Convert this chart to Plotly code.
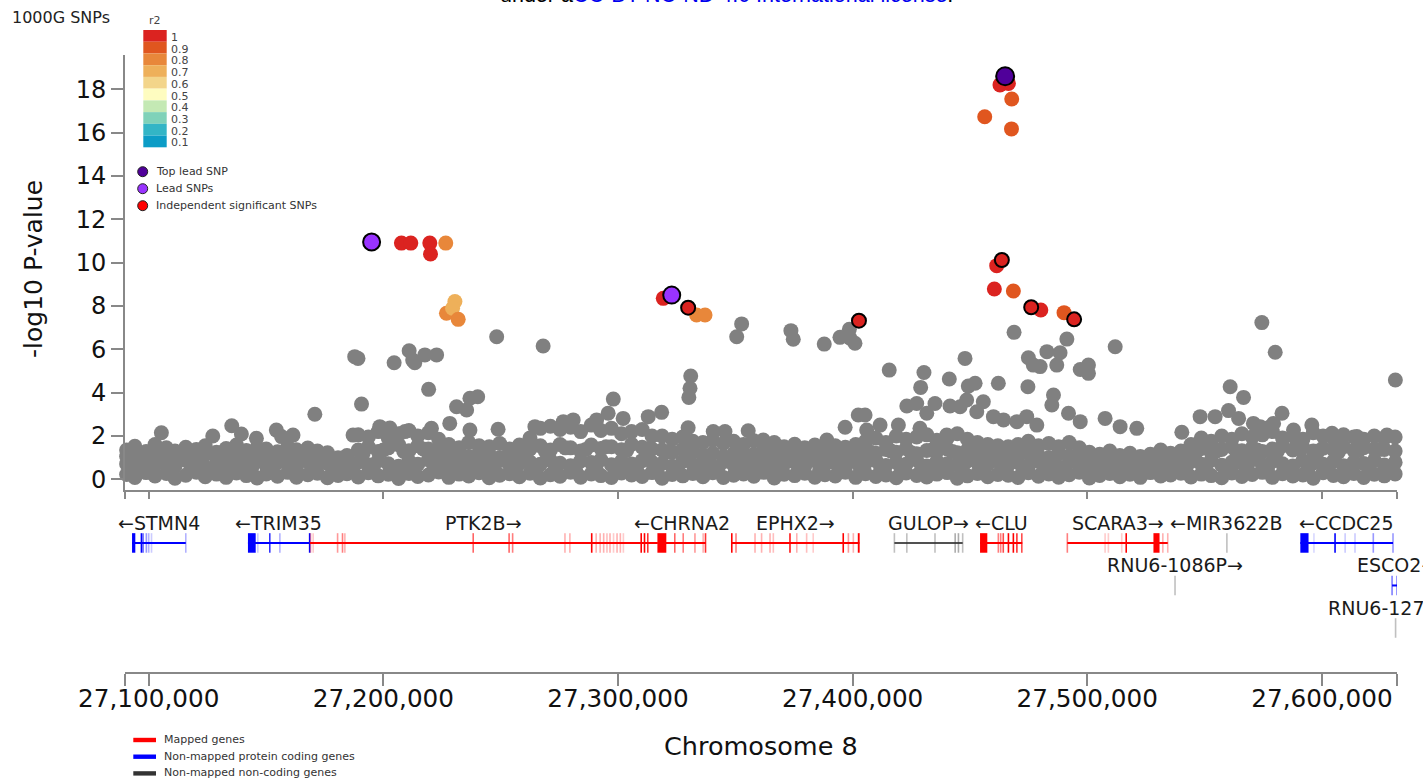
import math
import plotly.graph_objects as go

# ------------------------------------------------------------------ data
# positions in kb on chromosome 8, values are -log10 P
band_kb = [27090.6, 27094.1, 27098.9, 27102.7, 27107.5, 27111.2, 27115.8, 27120.3, 27124.1, 27128.9,
           27133.0, 27137.4, 27141.6, 27146.2, 27150.1, 27154.9, 27159.3, 27163.0, 27167.8, 27171.9,
           27176.2, 27180.7, 27184.5, 27189.3, 27193.6, 27197.8, 27202.1, 27206.5, 27210.9, 27214.7,
           27219.2, 27223.6, 27227.9, 27232.3, 27236.4, 27240.8, 27245.1, 27249.6, 27253.8, 27258.0,
           27262.5, 27266.9, 27271.2, 27275.3, 27279.8, 27284.1, 27288.6, 27292.7, 27297.2, 27301.5,
           27305.8, 27310.3, 27314.5, 27318.8, 27323.1, 27327.6, 27331.9, 27336.2, 27340.4, 27344.9,
           27349.3, 27353.5, 27357.9, 27362.2, 27366.6, 27370.8, 27375.3, 27379.6, 27383.9, 27388.2,
           27392.6, 27396.9, 27401.3, 27405.5, 27409.9, 27414.2, 27418.6, 27422.8, 27427.3, 27431.6,
           27435.9, 27440.3, 27444.6, 27448.9, 27453.2, 27457.6, 27461.9, 27466.3, 27470.5, 27474.9,
           27479.2, 27483.6, 27487.8, 27492.3, 27496.6, 27500.9, 27505.3, 27509.6, 27513.9, 27518.2,
           27522.6, 27526.9, 27531.3, 27535.5, 27539.9, 27544.2, 27548.6, 27552.8, 27557.3, 27561.6,
           27565.9, 27570.3, 27574.6, 27578.9, 27583.2, 27587.6, 27591.9, 27596.3, 27600.5, 27604.9,
           27609.2, 27613.6, 27617.8, 27622.3, 27626.6, 27631.2]
band_lo = [0.22, 0.08, 0.31, 0.15, 0.27, 0.05, 0.19, 0.33, 0.12, 0.24, 0.09, 0.29, 0.17, 0.06, 0.25, 0.14, 0.32, 0.1, 0.21, 0.28, 0.07,
           0.18, 0.26,
           0.11, 0.3, 0.16, 0.23, 0.04, 0.27, 0.13, 0.2, 0.34,
           0.09, 0.24, 0.15, 0.3, 0.07, 0.19, 0.26, 0.12,
           0.28, 0.06, 0.21, 0.14, 0.33, 0.1, 0.25, 0.17, 0.08, 0.29, 0.2, 0.13, 0.31,
           0.05, 0.22, 0.16, 0.27,
           0.12, 0.3, 0.08, 0.19, 0.25, 0.14, 0.32, 0.06, 0.23, 0.17, 0.28, 0.1, 0.21, 0.15, 0.33, 0.09,
           0.26, 0.13, 0.2, 0.07, 0.29, 0.18, 0.11, 0.24, 0.31, 0.05, 0.16, 0.27, 0.12, 0.22,
           0.19, 0.08, 0.3, 0.14, 0.25, 0.1, 0.21, 0.33,
           0.06, 0.18, 0.27, 0.12, 0.23, 0.09, 0.31, 0.15, 0.2, 0.28,
           0.11, 0.24, 0.17, 0.07, 0.29, 0.13, 0.22, 0.32, 0.09, 0.26, 0.15, 0.2, 0.05, 0.3, 0.18, 0.12, 0.27, 0.08, 0.23, 0.16, 0.25]
band_m1 = [0.71, 0.58, 0.83, 0.64, 0.77, 0.6, 0.88, 0.69, 0.55, 0.8, 0.66, 0.74, 0.59, 0.85, 0.62, 0.78, 0.7, 0.57, 0.82, 0.65, 0.73,
           0.6, 0.52,
           0.79, 0.67, 0.86, 0.72, 0.6, 0.84, 0.7, 0.9, 0.76,
           0.63, 0.81, 0.68, 0.75, 0.58, 0.87, 0.66, 0.72,
           0.8, 0.69, 0.88, 0.74, 0.62, 0.85, 0.77, 0.9, 0.67, 0.83, 0.71, 0.86, 0.79,
           0.73, 0.6, 0.84, 0.68,
           0.7, 0.59, 0.81, 0.66, 0.76, 0.56, 0.84, 0.63, 0.72, 0.79, 0.61, 0.87, 0.68, 0.74, 0.58, 0.8,
           0.75, 0.86, 0.64, 0.79, 0.7, 0.89, 0.61, 0.83, 0.72, 0.66, 0.85, 0.77, 0.69, 0.82,
           0.66, 0.78, 0.6, 0.84, 0.71, 0.57, 0.8, 0.69,
           0.62, 0.55, 0.7, 0.58, 0.66, 0.53, 0.72, 0.6, 0.64, 0.68,
           0.82, 0.7, 0.88, 0.65, 0.79, 0.74, 0.9, 0.67, 0.84, 0.72, 0.61, 0.86, 0.76, 0.69, 0.83, 0.63, 0.8, 0.73, 0.87, 0.66, 0.78]
band_m2 = [1.05, 1.18, 0.98, 1.12, 1.02, 1.21, 1.08, 0.97, 1.15, 1.04, 1.19, 1.0, 1.1, 1.22, 1.01, 1.14, 1.06, 0.99, 1.16, 1.03, 1.11,
           0.85, 0.92,
           1.35, 1.5, 1.28, 1.45, 1.6, 1.32, 1.55, 1.4, 1.3,
           1.1, 1.2, 1.05, 1.25, 1.15, 1.0, 1.22, 1.12,
           1.4, 1.55, 1.35, 1.6, 1.45, 1.3, 1.58, 1.42, 1.5, 1.36, 1.62, 1.48, 1.4,
           1.35, 1.25, 1.4, 1.3,
           1.12, 1.2, 1.05, 1.18, 1.0, 1.15, 1.08, 1.22, 1.02, 1.14, 1.1, 1.19, 1.04, 1.16, 1.07, 1.21,
           1.3, 1.2, 1.38, 1.25, 1.42, 1.18, 1.33, 1.28, 1.4, 1.22, 1.35, 1.27, 1.2, 1.3,
           1.15, 1.05, 1.2, 1.1, 1.0, 1.18, 1.08, 1.12,
           0.95, 1.02, 0.9, 1.05, 0.97, 0.88, 1.0, 0.93, 1.04, 0.98,
           1.3, 1.42, 1.25, 1.38, 1.5, 1.32, 1.45, 1.28, 1.4, 1.55, 1.35, 1.48, 1.3, 1.44, 1.36, 1.5, 1.33, 1.46, 1.4, 1.38, 1.3]
band_top = [1.35, 1.52, 1.28, 1.6, 1.45, 1.3, 1.48, 1.38, 1.55, 1.25, 1.42, 1.58, 1.33, 1.47, 1.4, 1.27, 1.5, 1.36, 1.44, 1.3, 1.22,
            1.0, 1.1,
            2.05, 1.95, 2.2, 1.9, 2.1, 2.25, 2.0, 2.15, 1.85,
            1.6, 1.45, 1.7, 1.55, 1.5, 1.65, 1.4, 1.58,
            1.9, 2.35, 2.45, 2.3, 2.4, 2.2, 2.5, 2.25, 2.35, 2.1, 2.2, 2.3, 2.0,
            2.0, 1.85, 1.95, 1.75,
            1.7, 1.8, 1.65, 1.75, 1.6, 1.78, 1.55, 1.7, 1.5, 1.62, 1.45, 1.58, 1.5, 1.55, 1.48, 1.6,
            1.75, 1.9, 1.7, 2.0, 1.85, 1.95, 2.05, 1.8, 1.9, 2.1, 1.85, 1.7, 1.6, 1.55,
            1.5, 1.6, 1.75, 1.55, 1.65, 1.5, 1.7, 1.45,
            1.25, 1.15, 1.3, 1.1, 1.2, 1.05, 1.15, 1.35, 1.2, 1.3,
            1.6, 1.9, 1.75, 2.0, 1.85, 2.1, 1.95, 2.05, 2.2, 1.9, 2.0, 1.85, 2.15, 2.0, 1.9, 2.05, 1.95, 1.85, 2.0, 1.9, 1.95]

band2_kb = [27092.4, 27096.6, 27100.8, 27105.1, 27109.3, 27113.6, 27118.0, 27122.2, 27126.5, 27130.9,
            27135.2, 27139.5, 27143.9, 27148.1, 27152.6, 27157.0, 27161.2, 27165.4, 27169.8, 27174.1,
            27178.5, 27182.6, 27187.0, 27191.4, 27195.7, 27200.0, 27204.3, 27208.7, 27212.8, 27217.0,
            27221.4, 27225.8, 27230.1, 27234.4, 27238.6, 27243.0, 27247.3, 27251.7, 27255.9, 27260.2,
            27264.7, 27269.0, 27273.2, 27277.6, 27282.0, 27286.3, 27290.6, 27294.9, 27299.3, 27303.7,
            27308.0, 27312.4, 27316.6, 27321.0, 27325.4, 27329.8, 27334.0, 27338.3, 27342.6, 27347.1,
            27351.4, 27355.7, 27360.0, 27364.4, 27368.7, 27373.1, 27377.4, 27381.8, 27386.0, 27390.4,
            27394.7, 27399.1, 27403.4, 27407.7, 27412.0, 27416.4, 27420.7, 27425.0, 27429.4, 27433.8,
            27438.1, 27442.5, 27446.8, 27451.0, 27455.4, 27459.8, 27464.1, 27468.4, 27472.7, 27477.0,
            27481.4, 27485.7, 27490.0, 27494.4, 27498.8, 27503.1, 27507.4, 27511.8, 27516.0, 27520.4,
            27524.7, 27529.1, 27533.4, 27537.7, 27542.0, 27546.4, 27550.7, 27555.0, 27559.4, 27563.7,
            27568.1, 27572.4, 27576.8, 27581.0, 27585.4, 27589.7, 27594.1, 27598.4, 27602.7, 27607.0,
            27611.4, 27615.7, 27620.0, 27624.4, 27628.8]
band2_p = [0.46, 0.97, 0.41, 1.02, 0.5, 0.92, 0.44, 1.05, 0.48, 0.9,
           0.43, 0.99, 0.52, 0.94, 0.4, 1.03, 0.47, 0.96, 0.45, 0.91,
           0.42, 0.6, 0.49, 1.2, 0.44, 1.35, 0.5, 1.28, 0.41, 1.4,
           0.46, 1.3, 0.43, 1.0, 0.48, 1.06, 0.45, 0.98, 0.5, 1.02,
           0.44, 1.3, 0.47, 1.45, 0.42, 1.38, 0.49, 1.5, 0.46, 1.33,
           0.43, 1.4, 0.5, 1.25, 0.45, 1.3, 0.41, 1.0, 0.48, 0.95,
           0.44, 1.03, 0.47, 0.97, 0.42, 1.05, 0.49, 0.93, 0.45, 1.0,
           0.43, 0.96, 0.46, 1.25, 0.5, 1.3, 0.44, 1.22, 0.48, 1.35,
           0.41, 1.28, 0.47, 1.2, 0.45, 1.32, 0.49, 1.0, 0.43, 1.04,
           0.46, 0.97, 0.42, 1.02, 0.48, 0.84, 0.44, 0.8, 0.5, 0.86,
           0.43, 0.82, 0.47, 0.78, 0.45, 1.25, 0.41, 1.3, 0.49, 1.22,
           0.44, 1.35, 0.48, 1.28, 0.42, 1.4, 0.46, 1.3, 0.5, 1.25,
           0.43, 1.33, 0.47, 1.38, 0.45]

grey_kb = [27105.4, 27127.3, 27135.4, 27139.5, 27145.9, 27154.4, 27156.6, 27161.5, 27170.8, 27187.1,
           27187.8, 27189.2, 27190.7, 27198.5, 27202.8, 27204.6, 27209.2, 27211.0, 27212.5, 27213.4,
           27217.7, 27219.3, 27220.5, 27222.7, 27228.3, 27231.2, 27235.5, 27236.9, 27236.9, 27240.2,
           27248.3, 27248.9, 27264.6, 27268.1, 27276.7, 27280.9, 27290.9, 27295.8, 27298.0, 27302.2,
           27312.9, 27318.6, 27329.9, 27330.2, 27330.7, 27331.0, 27340.6, 27345.6, 27350.6, 27352.7,
           27355.5, 27361.9, 27373.7, 27374.7, 27387.9, 27389.0, 27394.6, 27396.8, 27398.6, 27398.9,
           27401.0, 27402.4, 27405.3, 27406.0, 27411.7, 27415.6, 27419.5, 27423.1, 27427.3, 27428.7,
           27429.0, 27430.4, 27431.6, 27435.1, 27440.1, 27441.2, 27441.5, 27445.8, 27447.9, 27448.6,
           27449.3, 27452.2, 27452.9, 27455.7, 27460.0, 27462.1, 27464.3, 27468.8, 27470.0, 27474.2,
           27474.7, 27474.9, 27477.0, 27478.5, 27479.9, 27482.8, 27484.9, 27485.6, 27487.0, 27488.4,
           27491.3, 27492.0, 27497.0, 27497.0, 27500.5, 27500.5, 27507.6, 27511.9, 27514.0, 27521.1,
           27540.3, 27548.1, 27554.5, 27560.2, 27560.9, 27564.5, 27566.6, 27570.8, 27573.7, 27574.4,
           27578.0, 27579.4, 27580.1, 27583.0, 27587.9, 27595.7, 27604.3, 27614.9, 27627.7, 27631.3]
grey_p = [2.15, 2.0, 2.47, 2.09, 1.89, 2.27, 1.97, 2.04, 3.0, 2.04,
          5.66, 5.58, 3.47, 2.43, 2.37, 5.38, 2.2, 5.93, 5.5, 5.38,
          5.74, 4.15, 2.35, 5.74, 2.58, 3.35, 3.2, 3.74, 2.27, 3.81,
          6.58, 2.31, 2.43, 6.15, 2.66, 2.74, 2.74, 3.05, 3.7, 2.81,
          2.89, 3.09, 2.38, 3.78, 4.2, 4.77, 2.2, 2.2, 6.58, 7.17,
          2.24, 1.81, 6.86, 6.46, 6.24, 1.81, 6.55, 2.4, 6.92, 6.51,
          6.28, 2.97, 2.97, 2.27, 2.5, 5.04, 2.5, 3.38, 3.5, 2.35,
          4.24, 4.93, 3.05, 3.5, 2.04, 4.63, 3.38, 3.35, 5.58, 3.66,
          4.3, 4.43, 3.12, 3.58, 2.89, 4.43, 2.74, 6.78, 2.66, 2.89,
          4.27, 5.61, 5.27, 2.5, 5.2, 5.89, 3.43, 3.89, 5.27, 5.84,
          6.47, 3.05, 5.07, 2.66, 5.27, 4.89, 2.81, 6.12, 2.43, 2.35,
          2.17, 2.89, 2.89, 3.17, 4.27, 2.81, 3.78, 2.58, 2.43, 7.23,
          2.43, 2.58, 5.86, 3.05, 2.27, 2.5, 2.12, 1.97, 2.04, 4.58]

# SNPs in LD with a lead SNP (coloured by r2)
ld_kb = [27207.7, 27211.7, 27219.8, 27220.1, 27226.6, 27226.9, 27230.5, 27229.5, 27231.9,
         27319.3, 27333.5, 27337.1,
         27462.8, 27466.4, 27467.8, 27456.3, 27467.7, 27461.4, 27460.4, 27468.5, 27480.2, 27490.1]
ld_p = [10.9, 10.9, 10.9, 10.4, 10.9, 7.66, 8.2, 7.89, 7.38,
        8.35, 7.58, 7.58,
        18.2, 18.27, 17.55, 16.73, 16.17, 9.86, 8.78, 8.69, 7.81, 7.69]
ld_r2 = [0.97, 0.97, 0.96, 0.95, 0.8, 0.72, 0.65, 0.68, 0.71,
         0.97, 0.78, 0.78,
         0.98, 0.97, 0.88, 0.86, 0.88, 0.96, 0.95, 0.87, 0.96, 0.86]

indep_kb = [27329.9, 27402.7, 27463.6, 27476.1, 27494.4]
indep_p = [7.92, 7.32, 10.12, 7.94, 7.38]
indep_r2 = [1.0, 1.0, 1.0, 1.0, 1.0]

lead_kb = [27195.0, 27322.9]
lead_p = [10.95, 8.5]

toplead_kb = [27465.0]
toplead_p = [18.6]

r2_levels = [1, 0.9, 0.8, 0.7, 0.6, 0.5, 0.4, 0.3, 0.2, 0.1]
r2_colors = ['#db2320', '#e0561f', '#e8873a', '#eeb05a', '#f3d58a',
             '#fefcc0', '#c4e9b4', '#7fd2b9', '#33b5c6', '#0c9cc6']

y_ticks = [0, 2, 4, 6, 8, 10, 12, 14, 16, 18]
x_ticks_kb = [27100, 27200, 27300, 27400, 27500, 27600]
x_tick_text = ['27,100,000', '27,200,000', '27,300,000', '27,400,000', '27,500,000', '27,600,000']
region_kb = [27089.9, 27632.0]

# genes
gene_name = ['STMN4', 'TRIM35', 'PTK2B', 'CHRNA2', 'EPHX2', 'GULOP', 'CLU', 'SCARA3',
             'MIR3622B', 'RNU6-1086P', 'CCDC25', 'ESCO2', 'RNU6-1276P']
gene_start = [27092.9, 27142.3, 27168.7, 27317.4, 27348.5, 27417.8, 27454.3, 27491.5,
              27559.45, 27537.35, 27590.8, 27629.9, 27631.35]
gene_end = [27115.8, 27168.7, 27317.0, 27337.4, 27402.9, 27446.9, 27472.3, 27534.3,
            27559.55, 27537.45, 27630.3, 27633.9, 27631.45]
gene_strand = ['-', '-', '+', '-', '+', '+', '-', '+', '-', '+', '-', '+', '+']
gene_type = ['protein', 'protein', 'mapped', 'mapped', 'mapped', 'noncoding', 'mapped', 'mapped',
             'noncoding', 'noncoding', 'protein', 'protein', 'noncoding']
gene_row = [0, 0, 0, 0, 0, 0, 0, 0, 0, 1, 0, 1, 2]
gene_exons = [
    [(27092.9, 27094.3, 1), (27096.9, 27096.9, 1), (27097.6, 27097.6, 0.6), (27099.0, 27099.0, 0.4),
     (27100.0, 27100.0, 0.3), (27101.2, 27101.2, 0.2), (27115.8, 27115.8, 0.3)],
    [(27142.3, 27145.6, 1), (27146.5, 27146.5, 0.2), (27151.6, 27151.6, 0.8), (27155.9, 27155.9, 0.3),
     (27168.6, 27168.6, 1)],
    [(27169.0, 27169.0, 0.3), (27170.1, 27170.1, 0.2), (27180.5, 27180.5, 0.4), (27182.6, 27182.6, 0.5),
     (27183.6, 27183.6, 0.3), (27238.3, 27238.3, 0.6), (27253.6, 27253.6, 0.6), (27255.1, 27255.1, 0.5),
     (27277.4, 27277.4, 0.3), (27279.5, 27279.5, 0.3), (27288.8, 27288.8, 1), (27290.7, 27290.7, 0.3),
     (27292.4, 27292.4, 0.3), (27293.9, 27293.9, 0.3), (27295.3, 27295.3, 0.25), (27296.6, 27296.6, 0.3),
     (27298.1, 27298.1, 0.2), (27299.6, 27299.6, 0.3), (27301.0, 27301.0, 0.3), (27302.3, 27302.3, 0.2),
     (27309.9, 27309.9, 1), (27311.3, 27311.3, 1), (27312.7, 27312.7, 0.8)],
    [(27316.8, 27320.6, 1), (27324.2, 27324.2, 0.6), (27327.8, 27327.8, 0.5), (27332.8, 27332.8, 0.4),
     (27336.3, 27336.3, 0.3), (27337.3, 27337.3, 0.8)],
    [(27348.5, 27348.5, 1), (27350.3, 27350.3, 0.5), (27358.4, 27358.4, 0.3), (27361.2, 27361.2, 0.3),
     (27364.8, 27364.8, 0.3), (27366.2, 27366.2, 0.25), (27373.3, 27373.3, 0.9), (27376.2, 27376.2, 0.3),
     (27380.4, 27380.4, 0.25), (27383.2, 27383.2, 0.2), (27396.0, 27396.0, 1), (27398.2, 27398.2, 0.4),
     (27400.3, 27400.3, 0.3), (27402.2, 27403.0, 1)],
    [(27417.8, 27417.8, 0.3), (27423.1, 27423.1, 0.3), (27435.1, 27435.1, 0.3), (27443.7, 27443.7, 0.4),
     (27445.1, 27445.1, 0.4), (27446.9, 27446.9, 0.3)],
    [(27454.3, 27457.4, 1), (27462.1, 27462.1, 0.5), (27463.1, 27463.1, 0.5), (27464.2, 27464.2, 0.7),
     (27466.4, 27466.4, 1), (27468.5, 27468.5, 1), (27470.0, 27470.0, 0.8), (27472.1, 27472.1, 0.7)],
    [(27491.5, 27491.5, 0.5), (27507.6, 27507.6, 0.2), (27509.0, 27509.0, 0.2), (27514.7, 27514.7, 0.2),
     (27516.6, 27516.6, 1), (27528.2, 27530.8, 1), (27532.2, 27532.2, 0.3), (27534.3, 27534.3, 0.3)],
    [(27559.5, 27559.5, 0.3)],
    [(27537.4, 27537.4, 0.3)],
    [(27590.8, 27594.3, 1), (27596.6, 27596.6, 0.15), (27605.6, 27605.6, 1), (27609.9, 27609.9, 0.2),
     (27614.1, 27614.1, 0.2), (27621.9, 27621.9, 0.4), (27630.3, 27630.3, 0.4)],
    [(27629.9, 27629.9, 0.5), (27632.0, 27632.0, 0.5)],
    [(27631.4, 27631.4, 0.3)],
]
type_color = {'mapped': '#ff0000', 'protein': '#0000ff', 'noncoding': '#333333'}

legend_gene_labels = ['Mapped genes', 'Non-mapped protein coding genes', 'Non-mapped non-coding genes']
legend_gene_types = ['mapped', 'protein', 'noncoding']
legend_snp_labels = ['Top lead SNP', 'Lead SNPs', 'Independent significant SNPs']
legend_snp_colors = ['#50009a', '#9933ff', '#ff0000']

for lst in (band_lo, band_m1, band_m2, band_top):
    assert len(lst) == len(band_kb), len(lst)
assert len(band2_kb) == len(band2_p), (len(band2_kb), len(band2_p))
assert len(grey_kb) == len(grey_p)
assert len(ld_kb) == len(ld_p) == len(ld_r2)

# ------------------------------------------------------------------ helpers
FONT = 'DejaVu Sans'
W, H = 1423, 782
ML, MR, MT, MB = 125, 26, 55, 110
PW, PH = W - ML - MR, H - MT - MB


def PX(p):
    return (p - ML) / PW


def PY(p):
    return (H - MB - p) / PH


def r2_color(r):
    lvl = round(min(max(math.ceil(r * 10 - 1e-9) / 10, 0.1), 1.0), 1)
    return r2_colors[r2_levels.index(lvl)]


def bp(v):
    return [k * 1000 for k in v]


fig = go.Figure()

GREY = '#808080'
all_band_x = band_kb * 4 + band2_kb
all_band_y = band_lo + band_m1 + band_m2 + band_top + band2_p
fig.add_trace(go.Scatter(x=bp(all_band_x), y=all_band_y, mode='markers',
                         marker=dict(size=15, color=GREY), cliponaxis=False,
                         xaxis='x', yaxis='y', showlegend=False, hoverinfo='skip'))
fig.add_trace(go.Scatter(x=bp(grey_kb), y=grey_p, mode='markers',
                         marker=dict(size=15, color=GREY), cliponaxis=False,
                         xaxis='x', yaxis='y', showlegend=False))
fig.add_trace(go.Scatter(x=bp(ld_kb), y=ld_p, mode='markers',
                         marker=dict(size=15, color=[r2_color(r) for r in ld_r2]), cliponaxis=False,
                         xaxis='x', yaxis='y', showlegend=False))
fig.add_trace(go.Scatter(x=bp(indep_kb), y=indep_p, mode='markers',
                         marker=dict(size=14, color=[r2_color(r) for r in indep_r2],
                                     line=dict(color='black', width=2)), cliponaxis=False,
                         xaxis='x', yaxis='y', showlegend=False))
fig.add_trace(go.Scatter(x=bp(lead_kb), y=lead_p, mode='markers',
                         marker=dict(size=17, color='#9933ff', line=dict(color='black', width=2)),
                         cliponaxis=False, xaxis='x', yaxis='y', showlegend=False))
fig.add_trace(go.Scatter(x=bp(toplead_kb), y=toplead_p, mode='markers',
                         marker=dict(size=18, color='#50009a', line=dict(color='black', width=2)),
                         cliponaxis=False, xaxis='x', yaxis='y', showlegend=False))
# invisible trace to activate the gene-track axes
fig.add_trace(go.Scatter(x=[region_kb[0] * 1000], y=[0], mode='markers', marker=dict(opacity=0),
                         xaxis='x2', yaxis='y2', showlegend=False, hoverinfo='skip'))

shapes = []
annotations = []
HALF = 0.23
for i, name in enumerate(gene_name):
    col = type_color[gene_type[i]]
    row = gene_row[i]
    s, e = gene_start[i] * 1000, gene_end[i] * 1000
    if gene_end[i] - gene_start[i] > 0.5:
        shapes.append(dict(type='line', xref='x2', yref='y2', x0=s, x1=min(e, region_kb[1] * 1000),
                           y0=row, y1=row, line=dict(color=col, width=2),
                           opacity=0.85 if gene_type[i] == 'noncoding' else 1))
    for (a, b, alpha) in gene_exons[i]:
        if b - a > 0.05:
            shapes.append(dict(type='rect', xref='x2', yref='y2', x0=a * 1000, x1=b * 1000,
                               y0=row - HALF, y1=row + HALF, fillcolor=col, opacity=alpha,
                               line=dict(width=0)))
        else:
            shapes.append(dict(type='line', xref='x2', yref='y2', x0=a * 1000, x1=a * 1000,
                               y0=row - HALF, y1=row + HALF, opacity=alpha,
                               line=dict(color=col, width=1.6)))
    label = ('\u2190' + name) if gene_strand[i] == '-' else (name + '\u2192')
    annotations.append(dict(xref='x2', yref='y2', x=(s + e) / 2, y=row - 0.47, text=label,
                            showarrow=False, xanchor='center', yanchor='middle',
                            font=dict(family=FONT, size=19, color='#1a1a1a')))

# r2 colour legend
box_h = 11.73
for j, (lvl, c) in enumerate(zip(r2_levels, r2_colors)):
    y0 = 30 + j * box_h
    shapes.append(dict(type='rect', xref='paper', yref='paper', x0=PX(143.3), x1=PX(166.7),
                       y0=PY(y0 + box_h), y1=PY(y0), fillcolor=c, line=dict(width=0)))
    annotations.append(dict(xref='paper', yref='paper', x=PX(168.5), y=PY(y0 + box_h / 2 + 1.5),
                            text=str(lvl), showarrow=False, xanchor='left', yanchor='middle',
                            font=dict(family=FONT, size=11, color='#444444')))
annotations.append(dict(xref='paper', yref='paper', x=PX(155), y=PY(20), text='r2', showarrow=False,
                        xanchor='center', yanchor='middle', font=dict(family=FONT, size=11, color='#444444')))
annotations.append(dict(xref='paper', yref='paper', x=PX(10), y=PY(18), text='1000G SNPs', showarrow=False,
                        xanchor='left', yanchor='middle', font=dict(family=FONT, size=16, color='#222222')))

# SNP type legend
for j, (lab, c) in enumerate(zip(legend_snp_labels, legend_snp_colors)):
    cy = 171.7 + j * 17
    shapes.append(dict(type='circle', xref='paper', yref='paper', x0=PX(137.7), x1=PX(147.7),
                       y0=PY(cy + 5), y1=PY(cy - 5), fillcolor=c, line=dict(color='#222222', width=1)))
    annotations.append(dict(xref='paper', yref='paper', x=PX(154), y=PY(cy), text=lab, showarrow=False,
                            xanchor='left', yanchor='middle', font=dict(family=FONT, size=11, color='#333333')))

# gene legend
for j, (lab, t) in enumerate(zip(legend_gene_labels, legend_gene_types)):
    cy = 740 + j * 16.7
    shapes.append(dict(type='rect', xref='paper', yref='paper', x0=PX(133.3), x1=PX(156),
                       y0=PY(cy + 2.2), y1=PY(cy - 2.2), fillcolor=type_color[t], line=dict(width=0)))
    annotations.append(dict(xref='paper', yref='paper', x=PX(161.5), y=PY(cy - 0.5), text=lab, showarrow=False,
                            xanchor='left', yanchor='middle', font=dict(family=FONT, size=11, color='#333333')))

# axis titles
annotations.append(dict(xref='paper', yref='paper', x=PX(33), y=PY(269), text='-log10 P-value', showarrow=False,
                        textangle=-90, xanchor='center', yanchor='middle',
                        font=dict(family=FONT, size=25, color='#111111')))
annotations.append(dict(xref='paper', yref='paper', x=PX(761), y=PY(746), text='Chromosome 8', showarrow=False,
                        xanchor='center', yanchor='middle', font=dict(family=FONT, size=25.5, color='#111111')))
# licence watermark (cut at top edge)
annotations.append(dict(xref='paper', yref='paper', x=PX(498), y=PY(-5), showarrow=False,
                        xanchor='left', yanchor='middle',
                        text='under a<span style="color:#0000ee">CC-BY-NC-ND 4.0 International license</span>.',
                        font=dict(family='Liberation Sans', size=21.5, color='#000000')))

tickvals = bp([region_kb[0]] + x_ticks_kb + [region_kb[1]])
ticktext = [''] + x_tick_text + ['']
AX = '#888888'
fig.update_layout(
    width=W, height=H, margin=dict(l=ML, r=MR, t=MT, b=MB),
    paper_bgcolor='white', plot_bgcolor='white',
    font=dict(family=FONT, color='#111111'),
    showlegend=False,
    xaxis=dict(domain=[0, 1], anchor='y', range=bp(region_kb), tickvals=tickvals, showticklabels=False,
               ticks='outside', ticklen=7, tickwidth=2, tickcolor=AX, showline=True, linecolor=AX,
               linewidth=2, showgrid=False, zeroline=False),
    yaxis=dict(domain=[PY(490), 1], anchor='x', range=[-0.494, 19.58], tickvals=y_ticks,
               ticks='outside', ticklen=12, tickwidth=2, tickcolor=AX, showline=True, linecolor=AX,
               linewidth=2, showgrid=False, zeroline=False, tickfont=dict(family=FONT, size=24, color='#111111')),
    xaxis2=dict(domain=[0, 1], anchor='y2', matches='x', range=bp(region_kb), tickvals=tickvals,
                ticktext=ticktext, ticks='outside', ticklen=12, tickwidth=2, tickcolor=AX, showline=True,
                linecolor=AX, linewidth=2, showgrid=False, zeroline=False, ticklabelstandoff=-9,
                tickfont=dict(family=FONT, size=24.7, color='#111111')),
    yaxis2=dict(domain=[0, PY(500)], anchor='x2', range=[3.035, -1.01], visible=False, showgrid=False,
                zeroline=False),
    shapes=shapes, annotations=annotations,
)

fig.write_html('out.html')
